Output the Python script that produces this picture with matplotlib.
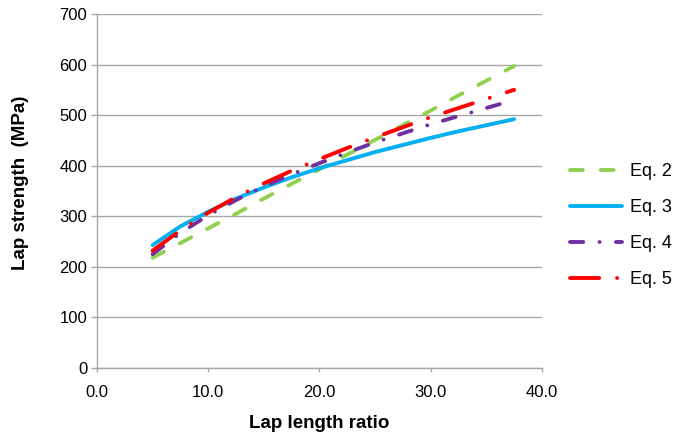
import matplotlib
matplotlib.use("Agg")
import matplotlib.pyplot as plt

plt.rcParams['font.family'] = ['Liberation Sans', 'DejaVu Sans']

ratio = [5, 7.5, 10, 12.5, 15, 17.5, 20, 22.5, 25, 27.5, 30, 32.5, 35, 37.5]
eq2 = [218, 247, 276, 305, 335, 364, 393, 422, 451, 480, 509, 539, 568, 597]
eq3 = [243, 280, 309, 335, 357, 377, 395, 411, 427, 441, 455, 468, 480, 492]
eq4 = [225, 267, 302, 332, 359, 383, 405, 426, 446, 464, 482, 498, 514, 530]
eq5 = [232, 272, 307, 338, 365, 390, 413, 435, 456, 476, 496, 514, 532, 550]
labels = ["Eq. 2", "Eq. 3", "Eq. 4", "Eq. 5"]
colors = ["#92D050", "#00B0F0", "#7030A0", "#FF0000"]

fig = plt.figure(figsize=(6.86, 4.37), dpi=100)
ax = fig.add_axes([0.1414, 0.158, 0.6486, 0.810])

lw = 2.8
styles = [
    dict(dashes=(3.3, 4.6)),
    dict(),
    dict(dashes=(3.4, 4.2, 0.01, 4.2)),
    dict(dashes=(7.5, 4.6, 0.01, 4.6)),
]
for y, lab, c, st in zip([eq2, eq3, eq4, eq5], labels, colors, styles):
    ax.plot(ratio, y, color=c, lw=lw, label=lab, dash_capstyle='round',
            solid_capstyle='round', **st)

ax.set_xlim(0, 40)
ax.set_ylim(0, 700)
ax.set_xticks([0, 10, 20, 30, 40])
ax.set_xticklabels(["0.0", "10.0", "20.0", "30.0", "40.0"])
ax.set_yticks(range(0, 701, 100))
ax.yaxis.grid(True, color='#A6A6A6', lw=1.0)
ax.set_axisbelow(True)
for s in ['top', 'right']:
    ax.spines[s].set_visible(False)
for s in ['left', 'bottom']:
    ax.spines[s].set_color('#A6A6A6')
    ax.spines[s].set_linewidth(1.0)
ax.tick_params(axis='both', colors='#A6A6A6', labelcolor='black', labelsize=12,
               length=4, width=1.0, pad=3)
ax.tick_params(axis='x', length=3, pad=9)
ax.set_xlabel("Lap length ratio", fontsize=13.5, fontweight='bold')
ax.set_ylabel("Lap strength  (MPa)", fontsize=13.5, fontweight='bold')
ax.xaxis.set_label_coords(0.5, -0.133)
ax.yaxis.set_label_coords(-0.152, 0.523)

leg = fig.legend(loc='center left', bbox_to_anchor=(0.831, 0.484), frameon=False,
                 fontsize=13, handlelength=2.9, labelspacing=1.05, handletextpad=0.4,
                 borderpad=0, borderaxespad=0)

fig.savefig("out.png", dpi=100)
